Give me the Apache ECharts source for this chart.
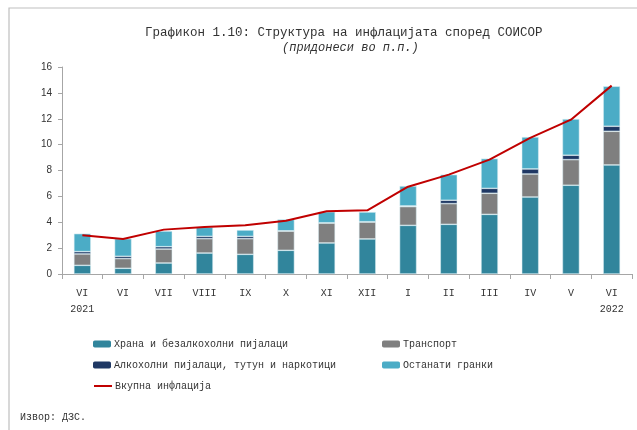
<!DOCTYPE html>
<html><head><meta charset="utf-8">
<script src="https://cdn.jsdelivr.net/npm/echarts@6/dist/echarts.min.js"></script>
<style>html,body{margin:0;padding:0;background:#fff}#c{width:637px;height:430px}</style>
</head><body><div id="c"></div>
<script>
const categories = ["VI","VI","VII","VIII","IX","X","XI","XII","I","II","III","IV","V","VI"];
const years = ["2021","","","","","","","","","","","","","2022"];
const food = [0.67,0.44,0.85,1.62,1.52,1.83,2.40,2.71,3.76,3.84,4.61,5.95,6.86,8.43];
const transport = [0.88,0.75,1.08,1.11,1.21,1.49,1.54,1.31,1.45,1.60,1.63,1.78,1.98,2.60];
const alcohol = [0.18,0.18,0.18,0.18,0.18,0.02,0.02,0.02,0.05,0.26,0.38,0.39,0.34,0.39];
const other = [1.39,1.36,1.21,0.70,0.49,0.88,0.85,0.75,1.54,1.98,2.30,2.47,2.80,3.09];
const total = [3.0,2.7,3.43,3.63,3.76,4.12,4.85,4.92,6.75,7.68,8.84,10.52,11.93,14.56];
const names = ["Храна и безалкохолни пијалаци","Транспорт","Алкохолни пијалаци, тутун и наркотици","Останати гранки","Вкупна инфлација"];
const colors = ["#31859C","#7F7F7F","#1F3864","#4BACC6","#C00000"];

const mono = "Liberation Mono";
const chart = echarts.init(document.getElementById('c'));
function barSeries(i, data){
  return {name:names[i], type:'bar', stack:'s', data:data, barWidth:17,
    itemStyle:{color:colors[i], borderColor:'rgba(220,238,244,0.9)', borderWidth:0.6}};
}
function leg(i, left, top, line){
  return {data:[{name:names[i]}], left:left, top:top, orient:'horizontal',
    itemWidth:18, itemHeight: line ? 2 : 7, itemGap:0, padding:0,
    itemStyle:{borderWidth:0},
    textStyle:{fontFamily:mono, fontSize:10, color:'#333', padding:[0,0,0,-2]}};
}
chart.setOption({
  animation:false,
  backgroundColor:'#fff',
  title:[{text:'Графикон 1.10: Структура на инфлацијата според СОИСОР', left:140, top:21,
    textStyle:{fontFamily:mono, fontSize:12.5, fontWeight:'normal', color:'#333'}},
    {text:'(придонеси во п.п.)', left:277, top:37,
    textStyle:{fontFamily:mono, fontSize:12, fontStyle:'italic', fontWeight:'normal', color:'#333'}},
    {text:'Извор: ДЗС.', left:15, top:407, textStyle:{fontFamily:mono, fontSize:10, fontWeight:'normal', color:'#333'}}],
  legend:[leg(0,93,339,false), leg(1,382,339,false), leg(2,93,360,false), leg(3,382,360,false), leg(4,93,381,true)],
  grid:{left:62, right:5, top:67, bottom:156},
  xAxis:{type:'category', data:categories, boundaryGap:true,
    axisLine:{lineStyle:{color:'#A6A6A6'}},
    axisTick:{show:true, length:5, lineStyle:{color:'#A6A6A6'}},
    axisLabel:{fontFamily:mono, fontSize:10, color:'#333', margin:11, lineHeight:16,
      formatter:function(v,i){return years[i] ? v + '\n' + years[i] : v;}}},
  yAxis:{type:'value', min:0, max:16, interval:2,
    axisLine:{show:true, lineStyle:{color:'#A6A6A6'}},
    axisTick:{show:true, length:4, lineStyle:{color:'#A6A6A6'}},
    splitLine:{show:false},
    axisLabel:{fontFamily:'Liberation Sans', fontSize:10, color:'#333', margin:10}},
  series:[barSeries(0,food), barSeries(1,transport), barSeries(2,alcohol), barSeries(3,other),
    {name:names[4], type:'line', data:total, symbol:'none', z:5,
     lineStyle:{color:colors[4], width:2}, itemStyle:{color:colors[4]}}],
  graphic:[{type:'polyline', shape:{points:[[9,430],[9,8],[637,8]]}, style:{stroke:'#BFBFBF', lineWidth:1.2, fill:null}}]
});
</script></body></html>
